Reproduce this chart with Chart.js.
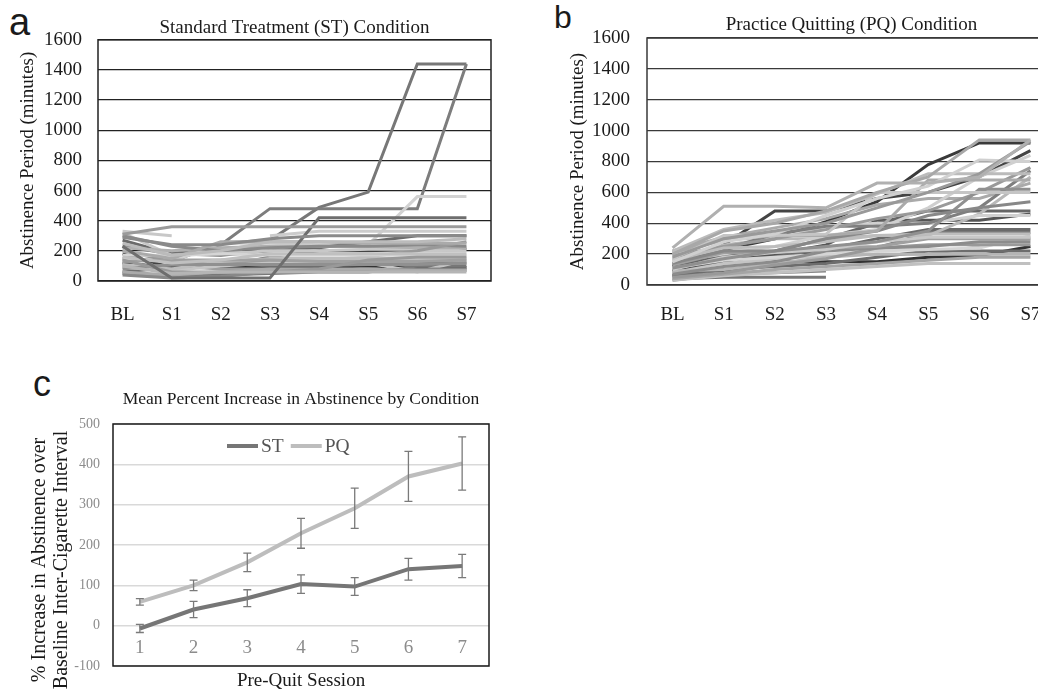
<!DOCTYPE html>
<html>
<head>
<meta charset="utf-8">
<script src="https://cdn.jsdelivr.net/npm/chart.js@4.4.1/dist/chart.umd.min.js"></script>
<style>
  html, body { margin: 0; padding: 0; background: #fff; }
  body { width: 1038px; height: 691px; overflow: hidden; position: relative; }
  .panel { position: absolute; }
  .letter { position: absolute; font-family: "Liberation Sans", Arial, sans-serif; line-height: 1; color: #1a1a1a; }
</style>
</head>
<body>
<div class="letter" style="left:9px;top:3px;font-size:38px">a</div>
<div class="letter" style="left:554px;top:1px;font-size:32px">b</div>
<div class="letter" style="left:33px;top:366px;font-size:36px">c</div>
<div class="panel" style="left:0;top:0"><canvas id="chartA" width="500" height="330"></canvas></div>
<div class="panel" style="left:520px;top:0"><canvas id="chartB" width="545" height="330"></canvas></div>
<div class="panel" style="left:0;top:370px"><canvas id="chartC" width="500" height="321"></canvas></div>

<script>
// ----- data -----
var sessions = ['BL', 'S1', 'S2', 'S3', 'S4', 'S5', 'S6', 'S7'];
var yTicksAB = [0, 200, 400, 600, 800, 1000, 1200, 1400, 1600];

// one row per participant, abstinence minutes at BL, S1..S7
var stRows = [
  [310, 360, 360, 360, 360, 360, 360, 360],
  [330, 300, null, null, null, null, null, null],
  [290, 240, 240, 280, 300, 300, 300, 300],
  [230, 20, 20, 20, 420, 420, 420, 420],
  [160, 120, 140, 180, 180, 180, 180, 180],
  [100, 50, 60, 60, 60, 60, 60, 60],
  [250, 170, 200, 260, 260, 260, 260, 280],
  [200, 150, 260, 260, 260, 250, 250, 250],
  [140, 60, 60, 60, 80, 140, 160, 160],
  [60, 40, 60, 80, 80, 80, 70, 70],
  [40, 20, 30, 60, 70, 70, 80, 80],
  [80, 110, 110, 110, 110, 110, 110, 120],
  [130, 140, 140, 140, 130, 130, 130, 140],
  [170, 170, 180, 170, 170, 170, 170, 170],
  [110, 80, 130, 150, 150, 150, 150, 150],
  [90, 70, 100, 120, 120, 120, 60, 140],
  [50, 30, 40, 50, 60, 60, 100, 100],
  [200, 130, 120, 130, 140, 160, 200, 260],
  [300, 230, 200, 220, 230, 230, 240, 230],
  [60, 90, 120, 100, 100, 110, 120, 120],
  [220, 200, 220, 230, 230, 230, 220, 220],
  [320, 170, 180, 200, 200, 210, 210, 200],
  [100, 100, 80, 80, 70, 70, 70, 70],
  [null, null, null, 300, 330, 330, 330, 330],
  [270, 180, 170, 200, 220, 260, 300, 300],
  [180, 90, 90, 160, 200, 200, 210, 210],
  [120, 90, 90, 90, 90, 100, 90, 90],
  [150, 130, 250, 250, 240, 240, 560, 560],
  [230, 180, 240, 480, 480, 480, 480, 1440],
  [150, 130, 250, 270, 488, 590, 1440, 1440]
];
var stColors = [
  '#9a9a9a', '#c8c8c8', '#8a8a8a', '#6e6e6e', '#c0c0c0', '#b5b5b5',
  '#bbbbbb', '#aaaaaa', '#999999', '#aaaaaa', '#888888', '#909090',
  '#a0a0a0', '#d5d5d5', '#bdbdbd', '#c5c5c5', '#777777', '#999999',
  '#8a8a8a', '#6e6e6e', '#b0b0b0', '#c8c8c8', '#9e9e9e', '#cccccc',
  '#6a6a6a', '#444444', '#333333', '#d2d2d2', '#7d7d7d', '#777777'
];

var pqRows = [
  [240, 510, 510, 500, 660, 660, 700, 940],
  [200, 350, 400, 480, 600, 700, 940, 940],
  [180, 300, 350, 400, 500, 600, 720, 930],
  [150, 280, 330, 450, 560, 640, 810, 800],
  [220, 360, 420, 470, 590, 720, 720, 720],
  [170, 320, 320, 330, 600, 600, 600, 600],
  [210, 290, 320, 320, 350, 680, 680, 680],
  [140, 220, 220, 300, 350, 450, 500, 540],
  [110, 170, 220, 250, 280, 350, 620, 620],
  [160, 240, 250, 280, 320, 330, 330, 330],
  [100, 180, 210, 230, 280, 310, 310, 310],
  [130, 210, 210, 240, 250, 300, 300, 300],
  [70, 120, 150, 220, 240, 250, 280, 280],
  [50, 80, 130, 170, 240, 260, 260, 260],
  [90, 100, 140, 180, 200, 200, 200, 200],
  [40, 70, 100, 120, 140, 160, 180, 180],
  [30, 60, 80, 100, 120, 140, 140, 140],
  [40, 50, 50, 50, null, null, null, null],
  [30, 70, 80, 90, null, null, null, null],
  [190, 250, 300, 360, 430, 480, 600, 760],
  [170, 230, 330, 380, 380, 400, 500, 740],
  [150, 200, 250, 320, 360, 500, 700, 840],
  [220, 310, 370, 430, 520, 560, 560, 660],
  [110, 160, 180, 200, 220, 230, 240, 320],
  [200, 300, 300, 380, 400, 400, 450, 450],
  [60, 100, 120, 140, 180, 220, 220, 220],
  [140, 260, 300, 300, 320, 320, 460, 700],
  [80, 140, 170, 190, 200, 200, 250, 300],
  [120, 200, 220, 300, 400, 480, 480, 480],
  [100, 150, 200, 260, 420, 420, 420, 460],
  [80, 150, 200, 230, 300, 360, 360, 360],
  [120, 190, 190, 230, 240, 340, 340, 340],
  [60, 90, 150, 150, 150, 180, 190, 250],
  [90, 260, 480, 480, 560, 600, 700, 870],
  [130, 230, 300, 410, 540, 780, 920, 920]
];
var pqColors = [
  '#b0b0b0', '#a8a8a8', '#999999', '#d0d0d0', '#bbbbbb', '#c5c5c5',
  '#aaaaaa', '#888888', '#909090', '#bdbdbd', '#c8c8c8', '#a0a0a0',
  '#8c8c8c', '#999999', '#b5b5b5', '#a5a5a5', '#c0c0c0', '#777777',
  '#888888', '#9a9a9a', '#7f7f7f', '#cfcfcf', '#aaaaaa', '#d5d5d5',
  '#d0d0d0', '#6d6d6d', '#b8b8b8', '#c4c4c4', '#666666', '#555555',
  '#6a6a6a', '#7a7a7a', '#333333', '#444444', '#3a3a3a'
];

// panel c: mean % increase and error
var preQuit = ['1', '2', '3', '4', '5', '6', '7'];
var stMean = [-7, 40, 68, 103, 97, 140, 148];
var stErr = [10, 20, 21, 23, 22, 27, 29];
var pqMean = [59, 100, 157, 229, 291, 370, 402];
var pqErr = [8, 13, 23, 37, 50, 62, 66];

// ----- plugins -----
var serif = '"Liberation Serif", "Times New Roman", serif';

var boxPlugin = {
  id: 'box',
  beforeDatasetsDraw: function (chart, args, opts) {
    var a = chart.chartArea, ctx = chart.ctx;
    ctx.save();
    ctx.strokeStyle = opts.color || '#222';
    ctx.lineWidth = opts.width || 1.5;
    ctx.strokeRect(a.left, a.top, a.right - a.left, a.bottom - a.top);
    ctx.restore();
  }
};

var errorBars = {
  id: 'errorBars',
  afterDatasetsDraw: function (chart, args, opts) {
    var ctx = chart.ctx, y = chart.scales.y;
    ctx.save();
    ctx.strokeStyle = opts.color;
    ctx.lineWidth = opts.width;
    chart.data.datasets.forEach(function (ds, i) {
      var meta = chart.getDatasetMeta(i);
      meta.data.forEach(function (pt, j) {
        var top = y.getPixelForValue(ds.data[j] + ds.errors[j]);
        var bot = y.getPixelForValue(ds.data[j] - ds.errors[j]);
        ctx.beginPath();
        ctx.moveTo(pt.x, top); ctx.lineTo(pt.x, bot);
        ctx.moveTo(pt.x - opts.cap, top); ctx.lineTo(pt.x + opts.cap, top);
        ctx.moveTo(pt.x - opts.cap, bot); ctx.lineTo(pt.x + opts.cap, bot);
        ctx.stroke();
      });
    });
    ctx.restore();
  }
};

// legend drawn inside the plot area (Excel style)
var lineLegend = {
  id: 'lineLegend',
  afterDraw: function (chart, args, opts) {
    var ctx = chart.ctx;
    var y = chart.chartArea.top + opts.offsetY;
    var x = opts.x;
    ctx.save();
    ctx.font = opts.size + 'px ' + serif;
    ctx.textBaseline = 'middle';
    chart.data.datasets.forEach(function (ds) {
      ctx.strokeStyle = ds.borderColor;
      ctx.lineWidth = ds.borderWidth;
      ctx.beginPath();
      ctx.moveTo(x, y); ctx.lineTo(x + opts.lineLength, y);
      ctx.stroke();
      x += opts.lineLength + 3;
      ctx.fillStyle = opts.color;
      ctx.fillText(ds.label, x, y + 1);
      x += ctx.measureText(ds.label).width + opts.gap;
    });
    ctx.restore();
  }
};

var sideTitle = {
  id: 'sideTitle',
  afterDraw: function (chart, args, opts) {
    var ctx = chart.ctx;
    ctx.save();
    ctx.font = opts.size + 'px ' + serif;
    ctx.fillStyle = opts.color;
    ctx.textAlign = 'center';
    ctx.textBaseline = 'middle';
    opts.lines.forEach(function (t, i) {
      ctx.save();
      ctx.translate(opts.x + i * opts.lineGap, opts.y);
      ctx.rotate(-Math.PI / 2);
      ctx.fillText(t, 0, 0);
      ctx.restore();
    });
    ctx.restore();
  }
};

function plainNumber(v) { return String(v); }

// ----- builders -----
function spaghetti(rows, colors) {
  return rows.map(function (r, i) {
    return {
      data: r, borderColor: colors[i % colors.length], backgroundColor: colors[i % colors.length],
      borderWidth: 3, pointRadius: 0, fill: false, tension: 0, spanGaps: false
    };
  });
}

function panelConfig(rows, colors, title, dims) {
  var font = { family: serif, size: 19, weight: 'normal', lineHeight: 1.2 };
  return {
    type: 'line',
    data: { labels: sessions, datasets: spaghetti(rows, colors) },
    options: {
      responsive: false,
      animation: false,
      layout: { padding: { left: 0, right: dims.padRight, top: 0, bottom: 0 } },
      plugins: {
        legend: { display: false },
        tooltip: { enabled: false },
        title: {
          display: true, text: title, fullSize: false, color: '#1a1a1a', font: font,
          padding: { top: dims.titleTop, bottom: dims.titleBottom }
        },
        box: { color: dims.gridColor, width: 1.5 }
      },
      scales: {
        x: {
          offset: true,
          grid: { display: false },
          border: { display: false },
          ticks: { font: font, color: '#1a1a1a', padding: dims.xPad, maxRotation: 0, autoSkip: false },
          afterFit: function (s) { s.height = dims.xHeight; }
        },
        y: {
          min: yTicksAB[0], max: yTicksAB[yTicksAB.length - 1],
          afterBuildTicks: function (s) { s.ticks = yTicksAB.map(function (v) { return { value: v }; }); },
          ticks: { font: font, color: '#1a1a1a', padding: dims.yPad, callback: plainNumber },
          grid: { color: dims.gridColor, lineWidth: 1.3, drawTicks: false },
          border: { display: false },
          title: {
            display: true, text: 'Abstinence Period (minutes)', color: '#1a1a1a', font: font,
            padding: { top: dims.yTitlePad, bottom: 0 }
          },
          afterFit: function (s) { s.width = dims.yWidth; }
        }
      }
    },
    plugins: [boxPlugin]
  };
}

new Chart(document.getElementById('chartA').getContext('2d'), panelConfig(stRows, stColors,
  'Standard Treatment (ST) Condition',
  { padRight: 9, titleTop: 17, titleBottom: 0, xPad: 14.6, xHeight: 49, yPad: 16, yTitlePad: 16.6, yWidth: 98, gridColor: '#222222' }));

new Chart(document.getElementById('chartB').getContext('2d'), panelConfig(pqRows, pqColors,
  'Practice Quitting (PQ) Condition',
  { padRight: 9, titleTop: 13.6, titleBottom: 1.6, xPad: 10.6, xHeight: 45, yPad: 17, yTitlePad: 46.6, yWidth: 127, gridColor: '#3a3a3a' }));

// ----- panel c -----
var fontC = { family: serif, size: 19, weight: 'normal', lineHeight: 1.2 };
new Chart(document.getElementById('chartC').getContext('2d'), {
  type: 'line',
  data: {
    labels: preQuit,
    datasets: [
      { label: 'ST', data: stMean, errors: stErr, borderColor: '#767676', backgroundColor: '#767676', borderWidth: 4, pointRadius: 0, tension: 0 },
      { label: 'PQ', data: pqMean, errors: pqErr, borderColor: '#bdbdbd', backgroundColor: '#bdbdbd', borderWidth: 4, pointRadius: 0, tension: 0 }
    ]
  },
  options: {
    responsive: false,
    animation: false,
    layout: { padding: { left: 0, right: 11, top: 0, bottom: 0 } },
    plugins: {
      legend: { display: false },
      tooltip: { enabled: false },
      title: {
        display: true, text: 'Mean Percent Increase in Abstinence by Condition', color: '#1a1a1a', fullSize: false,
        font: { family: serif, size: 17.5, weight: 'normal', lineHeight: 1.2 },
        padding: { top: 18.5, bottom: 14.5 }
      },
      box: { color: '#1a1a1a', width: 1.5 },
      errorBars: { color: '#7a7a7a', width: 1.3, cap: 4 },
      lineLegend: { x: 227, offsetY: 22, lineLength: 31, gap: 7, size: 19.5, color: '#555555' },
      sideTitle: {
        lines: ['% Increase in Abstinence over', 'Baseline Inter-Cigarette Interval'],
        x: 40, y: 190, lineGap: 22, size: 20, color: '#1a1a1a'
      }
    },
    scales: {
      x: {
        offset: true,
        grid: { display: false },
        border: { display: false },
        // labels sit inside the plot, just above the bottom border
        ticks: { font: fontC, color: '#8c8c8c', mirror: true, padding: 6.6, maxRotation: 0 },
        title: {
          display: true, text: 'Pre-Quit Session', color: '#1a1a1a',
          font: { family: serif, size: 19, weight: 'normal', lineHeight: 1 }, padding: { top: 0, bottom: 0 }
        },
        afterFit: function (s) { s.height = 25; }
      },
      y: {
        min: -100, max: 500,
        ticks: { stepSize: 100, font: { family: serif, size: 14 }, color: '#8c8c8c', padding: 13 },
        grid: { color: '#d9d9d9', lineWidth: 1.5, drawTicks: false },
        border: { display: false },
        afterFit: function (s) { s.width = 113; }
      }
    }
  },
  plugins: [boxPlugin, errorBars, lineLegend, sideTitle]
});
</script>
</body>
</html>
